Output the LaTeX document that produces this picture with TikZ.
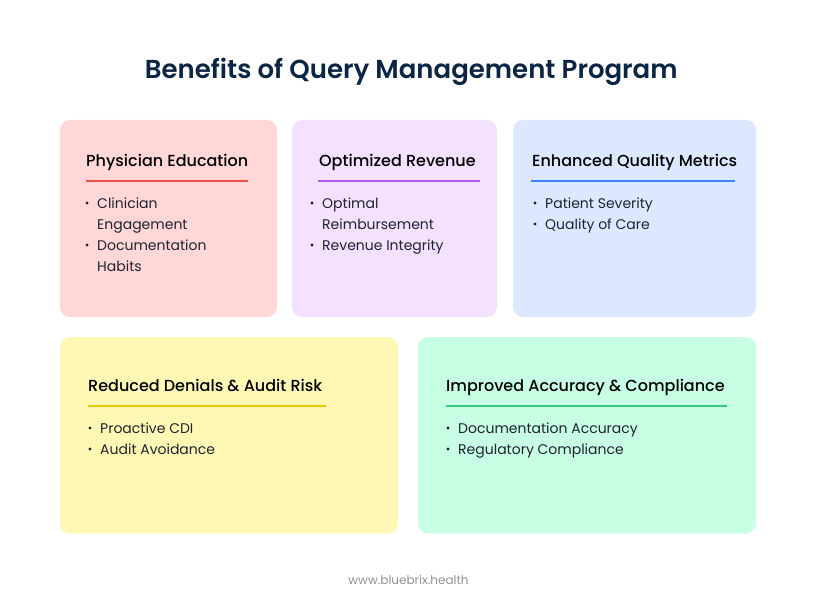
\documentclass[tikz,border=0pt]{standalone}
\usepackage{fontspec}
\setmainfont{Poppins}
\newfontfamily\popmed{Poppins Medium}
\newfontfamily\popsemi{Poppins SemiBold}
\definecolor{titlec}{HTML}{0B2545}
\definecolor{txt}{HTML}{1F2430}
\definecolor{cardA}{HTML}{FFD7D7}
\definecolor{cardB}{HTML}{F4E0FF}
\definecolor{cardC}{HTML}{DBE8FF}
\definecolor{cardD}{HTML}{FFF8B4}
\definecolor{cardE}{HTML}{C8FFE4}
\definecolor{lineA}{HTML}{EF5350}
\definecolor{lineB}{HTML}{B05CE8}
\definecolor{lineC}{HTML}{3B82F6}
\definecolor{lineD}{HTML}{EAC800}
\definecolor{lineE}{HTML}{34C77F}
\tikzset{x=1pt,y=-1pt,
 card/.style={rounded corners=10pt,draw=none},
 head/.style={anchor=base west,inner sep=0pt,font=\popmed\fontsize{16}{18}\selectfont,text=black},
 item/.style={anchor=base west,inner sep=0pt,font=\fontsize{14}{16}\selectfont,text=txt},
 bullet/.style={circle,fill=txt,inner sep=0pt,minimum size=3.4pt},
 rule/.style={line width=1.6pt}}
\begin{document}
\begin{tikzpicture}
\useasboundingbox[fill=white] (0,0) rectangle (816,612);
\node[anchor=base,inner sep=0pt,font=\popsemi\fontsize{26}{30}\selectfont,text=titlec] (title) at (411.3,78.8) {Benefits of Query Management Program};
\fill[card,cardA] (60,120) rectangle (277,317);
\fill[card,cardB] (292,120) rectangle (497,317);
\fill[card,cardC] (513,120) rectangle (756,317);
\fill[card,cardD] (60,337) rectangle (398,533.5);
\fill[card,cardE] (418,337) rectangle (756,533.5);
\node[head] (h1) at (86,166.8) {Physician Education};
\draw[lineA,rule] (86,181) -- (248,181);
\node[bullet] (b1) at (87,203) {}; \node[item] at (97,208.6) {Clinician};
\node[item] at (97,229.8) {Engagement};
\node[bullet] (b2) at (87,245) {}; \node[item] at (97,250.8) {Documentation};
\node[item] at (97,271.8) {Habits};
\node[head] (h2) at (319,166.8) {Optimized Revenue};
\draw[lineB,rule] (318,181) -- (480,181);
\node[bullet] at (312,203) {}; \node[item] at (322,208.6) {Optimal};
\node[item] at (322,229.8) {Reimbursement};
\node[bullet] at (312,245) {}; \node[item] at (322,250.8) {Revenue Integrity};
\node[head] (h3) at (532,166.8) {Enhanced Quality Metrics};
\draw[lineC,rule] (531,181) -- (735,181);
\node[bullet] at (535,203) {}; \node[item] at (545,208.6) {Patient Severity};
\node[bullet] at (535,224) {}; \node[item] at (545,229.8) {Quality of Care};
\node[head] (h4) at (88,391) {Reduced Denials \& Audit Risk};
\draw[lineD,rule] (88,406) -- (326,406);
\node[bullet] at (90,428) {}; \node[item] at (100,433) {Proactive CDI};
\node[bullet] at (90,449) {}; \node[item] at (100,454) {Audit Avoidance};
\node[head] (h5) at (446,391) {Improved Accuracy \& Compliance};
\draw[lineE,rule] (446,406) -- (727,406);
\node[bullet] at (448,428) {}; \node[item] at (458,433) {Documentation Accuracy};
\node[bullet] at (448,449) {}; \node[item] at (458,454) {Regulatory Compliance};
\node[anchor=base,inner sep=0pt,font=\fontsize{12}{14}\selectfont,text=gray!85] (foot) at (408.5,584) {www.bluebrix.health};
\end{tikzpicture}
\end{document}
